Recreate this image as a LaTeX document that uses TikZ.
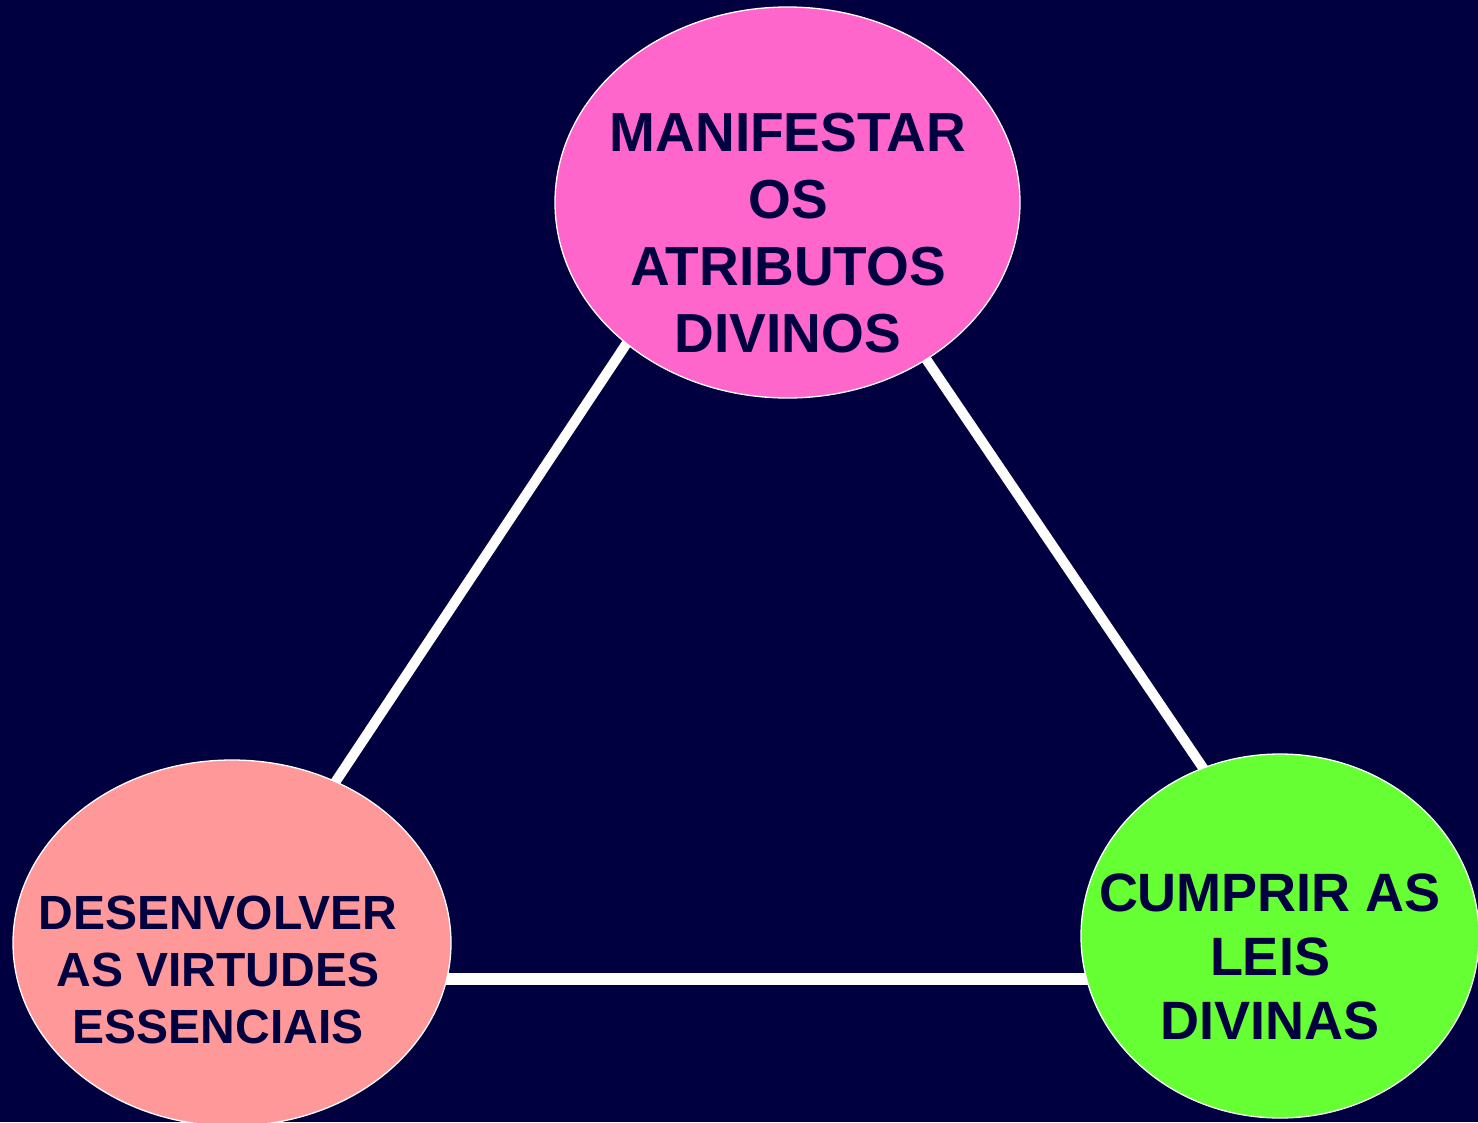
\documentclass[tikz,border=0pt]{standalone}
\usepackage{fontspec}
\setmainfont{Liberation Sans}
\usetikzlibrary{shapes.geometric}
\definecolor{bg}{HTML}{000040}
\definecolor{pinkA}{HTML}{FF66CC}
\definecolor{salmonA}{HTML}{FF9999}
\definecolor{limeA}{HTML}{66FF33}
\begin{document}
\begin{tikzpicture}[x=1pt,y=-1pt,
  blob/.style={ellipse, draw=white, line width=1.3pt, inner sep=0pt},
  txt/.style={text=bg, align=center, inner sep=0pt},
  connector/.style={draw=white, line width=10pt}]
\fill[bg] (0,0) rectangle (1478,1122);
\useasboundingbox (0,0) rectangle (1478,1122);
% connector end points (hidden under the ellipses)
\coordinate (l1) at (632.2,335);
\coordinate (l2) at (331.2,788.3);
\coordinate (r1) at (921.1,351.7);
\coordinate (r2) at (1208.9,776.6);
\coordinate (h1) at (440,978.5);
\coordinate (h2) at (1095,978.5);
\draw[connector] (l1) -- (l2);
\draw[connector] (r1) -- (r2);
\draw[connector, line width=12pt] (h1) -- (h2);
% ellipses
\node[blob, fill=pinkA, minimum width=465pt, minimum height=391pt] (top) at (787.5,202.5) {};
\node[blob, fill=salmonA, minimum width=438pt, minimum height=366pt] (left) at (232,943) {};
\node[blob, fill=limeA, minimum width=398pt, minimum height=364pt] (right) at (1280,936) {};
% texts
\node[txt, font=\fontsize{55}{67}\selectfont\bfseries] (toptext) at (788,233.5)
  {MANIFESTAR\\OS\\ATRIBUTOS\\DIVINOS};
\node[txt, font=\fontsize{48}{57}\selectfont\bfseries] (lefttext) at (218,969.5)
  {DESENVOLVER\\AS VIRTUDES\\ESSENCIAIS};
\node[txt, font=\fontsize{54}{64}\selectfont\bfseries] (righttext) at (1270,957)
  {CUMPRIR AS\\LEIS\\DIVINAS};
\end{tikzpicture}
\end{document}
